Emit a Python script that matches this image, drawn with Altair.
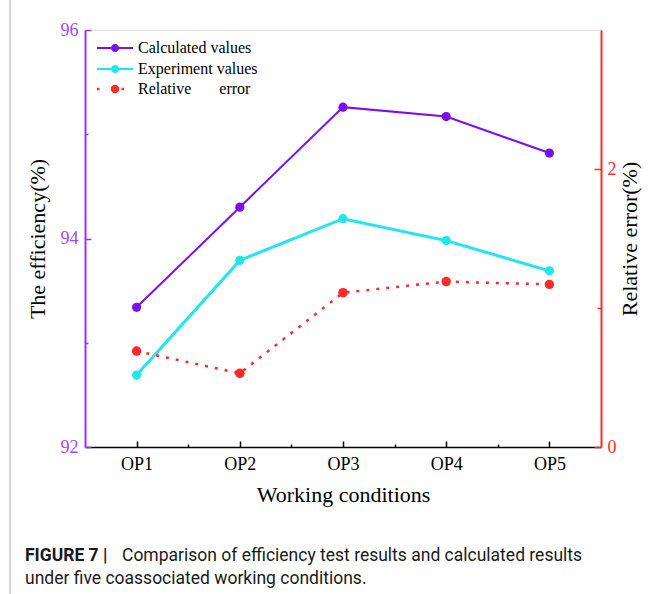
import json
import altair as alt
import pandas as pd

# ---------------- data ----------------
conditions = ["OP1", "OP2", "OP3", "OP4", "OP5"]
calculated = [93.34, 94.30, 95.26, 95.17, 94.82]
experiment = [92.69, 93.79, 94.19, 93.98, 93.69]
rel_error = [0.69, 0.53, 1.11, 1.19, 1.17]

series_names = ["Calculated values", "Experiment values"]
error_name = "Relative\u00a0\u00a0\u00a0\u00a0\u00a0\u00a0\u00a0error"

x_major = [1, 2, 3, 4, 5]
x_minor = [1.5, 2.5, 3.5, 4.5]
eff_major = [92, 94, 96]
eff_minor = [93, 95]
err_major = [0, 2]
err_minor = [1]

x_title = "Working conditions"
y_left_title = "The efficiency(%)"
y_right_title = "Relative error(%)"
caption_bold = "FIGURE 7 |"
caption_line1 = "Comparison of efficiency test results and calculated results"
caption_line2 = "under five coassociated working conditions."

# ---------------- styling ----------------
PURPLE = "#7b10ee"
PURPLE_AX = "#9b30ff"
PURPLE_LBL = "#a346ff"
CYAN = "#20e6ee"
RED = "#ff2a2a"
SERIF = "Liberation Serif"
SANS = "Roboto"

W, H = 516, 417

n = len(conditions)
idx = list(range(1, n + 1))
eff_df = pd.DataFrame({
    "idx": idx * 2,
    "value": calculated + experiment,
    "series": [series_names[0]] * n + [series_names[1]] * n,
})
err_df = pd.DataFrame({"idx": idx, "value": rel_error, "series": [error_name] * n})

label_expr = json.dumps(conditions) + "[round(datum.value) - 1]"

xscale = alt.Scale(domain=[0.5, n + 0.5], nice=False, zero=False)
yl_scale = alt.Scale(domain=[92, 96], nice=False, zero=False)
yr_scale = alt.Scale(domain=[0, 3], nice=False, zero=False)

leg_path_a = ("M-3.6,-0.2H3.6V0.2H-3.6Z "
              "M0.8,0A0.8,0.8 0 1,1 -0.8,0A0.8,0.8 0 1,1 0.8,0Z")
leg_path_b = ("M-3.6,-0.25h0.5v0.5h-0.5Z M1.3,-0.25h0.5v0.5h-0.5Z "
              "M0.85,0A0.85,0.85 0 1,1 -0.85,0A0.85,0.85 0 1,1 0.85,0Z")

def legend(path, y):
    return alt.Legend(
        title=None, orient="none", legendX=9, legendY=y, padding=0,
        symbolType=path, symbolSize=100, symbolStrokeWidth=0,
        symbolOffset=13, labelOffset=15, rowPadding=5,
        labelFont=SERIF, labelFontSize=16, labelColor="black",
        labelLimit=0,
    )

def tick_axis(orient, values, size, color):
    return alt.Axis(orient=orient, values=values, offset=-size, tickSize=size,
                    tickWidth=1.5, tickColor=color, domain=False, labels=False,
                    title=None, grid=False)

# ---------------- left group (efficiency) ----------------
eff_base = alt.Chart(eff_df)

eff_points = eff_base.mark_circle(size=85, opacity=1).encode(
    x=alt.X("idx:Q", scale=xscale, axis=alt.Axis(
        orient="bottom", values=x_major, labelExpr=label_expr, ticks=False,
        domain=True, domainColor="black", domainWidth=1.5,
        labelFont=SERIF, labelFontSize=18, labelColor="black", labelPadding=8,
        title=x_title, titleFont=SERIF, titleFontSize=22, titleFontWeight="normal",
        titleColor="black", titlePadding=11, grid=False)),
    y=alt.Y("value:Q", scale=yl_scale, axis=alt.Axis(
        orient="left", values=eff_major, ticks=False, domain=True,
        domainColor=PURPLE_AX, domainWidth=2, labelFont=SERIF, labelFontSize=18,
        labelColor=PURPLE_LBL, labelPadding=7, title=y_left_title,
        titleFont=SERIF, titleFontSize=22, titleFontWeight="normal",
        titleColor="black", titlePadding=11, grid=False)),
    color=alt.Color("series:N", scale=alt.Scale(domain=series_names, range=[PURPLE, CYAN]),
                    legend=legend(leg_path_a, 10)),
)

eff_lines = eff_base.mark_line().encode(
    x=alt.X("idx:Q", scale=xscale, axis=None),
    y=alt.Y("value:Q", scale=yl_scale, axis=None),
    color=alt.Color("series:N", scale=alt.Scale(domain=series_names, range=[PURPLE, CYAN]),
                    legend=None),
    strokeWidth=alt.StrokeWidth("series:N", scale=alt.Scale(domain=series_names, range=[2, 3]),
                                legend=None),
)

eff_ticks_major = eff_base.mark_point(opacity=0).encode(
    x=alt.X("idx:Q", scale=xscale, axis=tick_axis("bottom", x_major, 6, "black")),
    y=alt.Y("value:Q", scale=yl_scale, axis=tick_axis("left", eff_major, 6, PURPLE_AX)),
)
eff_ticks_minor = eff_base.mark_point(opacity=0).encode(
    x=alt.X("idx:Q", scale=xscale, axis=tick_axis("bottom", x_minor, 3, "black")),
    y=alt.Y("value:Q", scale=yl_scale, axis=tick_axis("left", eff_minor, 3, PURPLE_AX)),
)

left = alt.layer(eff_points, eff_lines, eff_ticks_major, eff_ticks_minor).resolve_axis(
    x="independent", y="independent")

# ---------------- right group (relative error) ----------------
err_base = alt.Chart(err_df)

err_points = err_base.mark_circle(size=90, opacity=1).encode(
    x=alt.X("idx:Q", scale=xscale, axis=None),
    y=alt.Y("value:Q", scale=yr_scale, axis=alt.Axis(
        orient="right", values=err_major, ticks=False, domain=True,
        domainColor=RED, domainWidth=2, labelFont=SERIF, labelFontSize=18,
        labelColor=RED, labelPadding=6, title=y_right_title, titleAngle=270,
        titleBaseline="top", titleFont=SERIF, titleFontSize=22,
        titleFontWeight="normal", titleColor="black", titlePadding=3, grid=False)),
    color=alt.Color("series:N", scale=alt.Scale(domain=[error_name], range=[RED]),
                    legend=legend(leg_path_b, 51)),
)

err_line = err_base.mark_line(strokeDash=[3, 7], strokeWidth=2.5).encode(
    x=alt.X("idx:Q", scale=xscale, axis=None),
    y=alt.Y("value:Q", scale=yr_scale, axis=None),
    color=alt.Color("series:N", scale=alt.Scale(domain=[error_name], range=[RED]), legend=None),
)

err_ticks_major = err_base.mark_point(opacity=0).encode(
    x=alt.X("idx:Q", scale=xscale, axis=None),
    y=alt.Y("value:Q", scale=yr_scale, axis=tick_axis("right", err_major, 7, RED)),
)
err_ticks_minor = err_base.mark_point(opacity=0).encode(
    x=alt.X("idx:Q", scale=xscale, axis=None),
    y=alt.Y("value:Q", scale=yr_scale, axis=tick_axis("right", err_minor, 4, RED)),
)

right = alt.layer(err_points, err_line, err_ticks_major, err_ticks_minor).resolve_axis(
    y="independent")

# ---------------- caption & frame ----------------
one = alt.Data(values=[{}])
cap_bold = alt.Chart(one).mark_text(align="left", baseline="alphabetic", font=SANS,
                                     fontSize=17.5, fontWeight="bold", color="#1a1a1a").encode(
    x=alt.value(-60), y=alt.value(531), text=alt.value(caption_bold))
cap_1 = alt.Chart(one).mark_text(align="left", baseline="alphabetic", font=SANS,
                                  fontSize=17.5, color="#1a1a1a").encode(
    x=alt.value(37), y=alt.value(531), text=alt.value(caption_line1))
cap_2 = alt.Chart(one).mark_text(align="left", baseline="alphabetic", font=SANS,
                                  fontSize=17.5, color="#1a1a1a").encode(
    x=alt.value(-60), y=alt.value(554), text=alt.value(caption_line2))

frame_left = alt.Chart(one).mark_rule(color="#c8c8c8", strokeWidth=1.5).encode(
    x=alt.value(-75), y=alt.value(-30), y2=alt.value(564))

chart = alt.layer(left, right, cap_bold, cap_1, cap_2, frame_left).resolve_scale(
    y="independent", color="independent").resolve_axis(x="independent").properties(
    width=W, height=H, autosize="none",
    padding={"left": 85, "top": 30, "right": 62, "bottom": 147},
).configure_view(stroke="black", strokeWidth=1.5).configure(background="white")

chart.save("out.html", embed_options={"renderer": "svg", "actions": False})
